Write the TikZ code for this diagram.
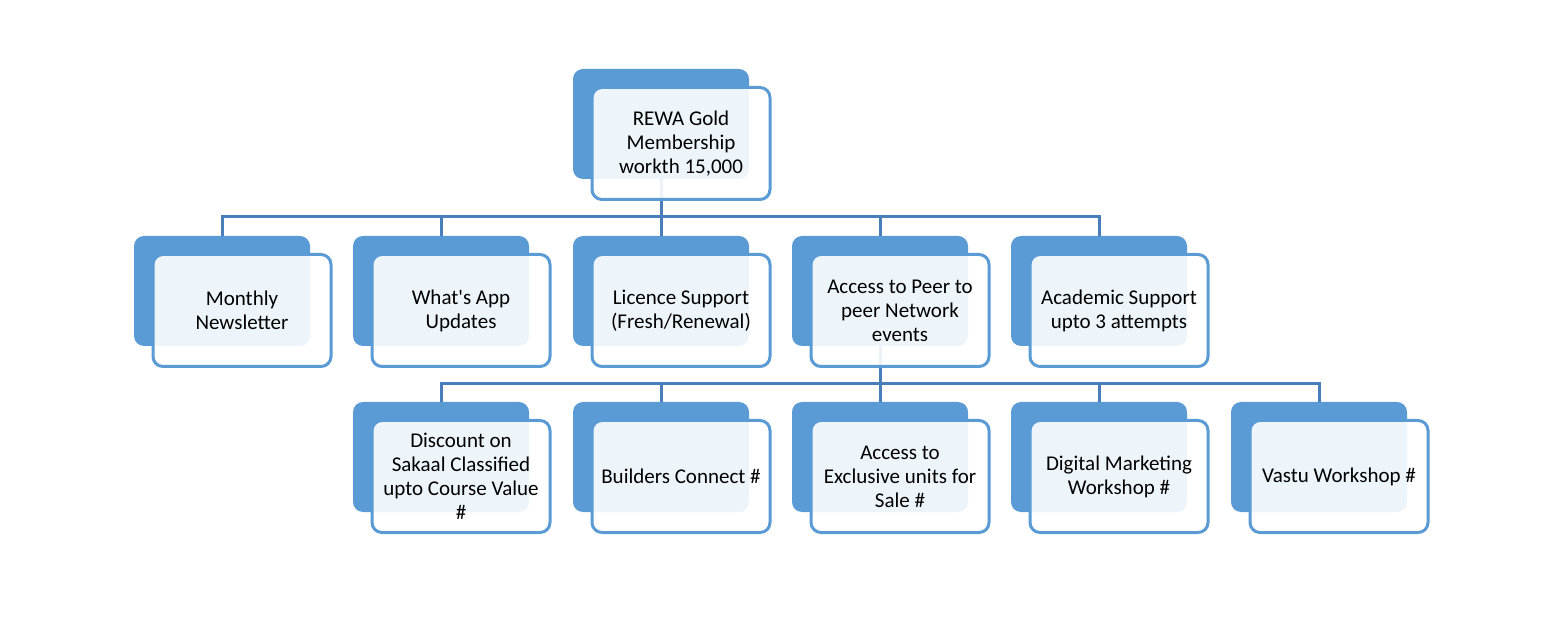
\documentclass[tikz,border=0pt]{standalone}
\usepackage{fontspec}
\setmainfont{Carlito}
\usetikzlibrary{calc}

\definecolor{boxblue}{HTML}{5B9BD5}
\definecolor{lineblue}{HTML}{4A7EBB}

\begin{document}
\begin{tikzpicture}[x=0.5pt,y=-0.5pt]

\tikzset{back/.style = {shape=rectangle,rounded corners=5pt,fill=boxblue,minimum width=88pt,minimum height=55pt}}
\tikzset{front/.style = {shape=rectangle,rounded corners=5pt,draw=boxblue,line width=1.5pt,fill=white,fill opacity=0.9,text opacity=1,
  minimum width=89pt,minimum height=56pt,align=center,xshift=10pt,yshift=-9.75pt,font=\fontsize{10.5}{12}\selectfont}}
\tikzset{link/.style = {draw=lineblue,line width=1.5pt}}

\useasboundingbox (0,0) rectangle (1561,640);

% dark boxes behind
\foreach \pos/\name in {{(661,124)/root}, {(222,291)/news}, {(441,291)/app}, {(661,291)/lic}, {(880,291)/peer}, {(1099,291)/acad},
  {(441,457)/disc}, {(661,457)/build}, {(880,457)/excl}, {(1099,457)/digi}, {(1319,457)/vastu}}
\node[back] (\name) at \pos {};

% connectors
\foreach \to in {news,app,lic,peer,acad}
\draw[link] (root.south) -- ++(0,37) -| (\to.north);
\foreach \to in {disc,build,excl,digi,vastu}
\draw[link] (peer.south) -- ++(0,37) -| (\to.north);

% light boxes with the text
\foreach \pos/\name/\txt in {{(661,124)/root/{REWA Gold\\Membership\\workth 15,000}},
  {(222,291)/news/{Monthly\\Newsletter}},
  {(441,291)/app/{What\textquotesingle s App\\Updates}},
  {(661,291)/lic/{Licence Support\\(Fresh/Renewal)}},
  {(880,291)/peer/{Access to Peer to\\peer Network\\events}},
  {(1099,291)/acad/{Academic Support\\upto 3 attempts}},
  {(441,457)/disc/{Discount on\\Sakaal Classified\\upto Course Value\\\#}},
  {(661,457)/build/{Builders Connect \#}},
  {(880,457)/excl/{Access to\\Exclusive units for\\Sale \#}},
  {(1099,457)/digi/{Digital Marketing\\Workshop \#}},
  {(1319,457)/vastu/{Vastu Workshop \#}}}
\node[front] (\name-f) at \pos {\txt};

\end{tikzpicture}
\end{document}
